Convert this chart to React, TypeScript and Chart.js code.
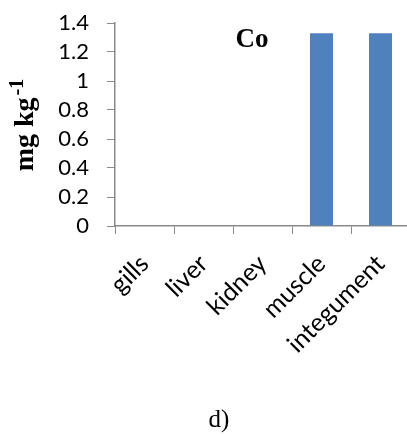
import React, { useEffect, useRef } from "react";
import { Chart, registerables } from "chart.js";

Chart.register(...registerables);

const categories = ["gills", "liver", "kidney", "muscle", "integument"];
const coValues = [0, 0, 0, 1.33, 1.33];
const yTicks = [0, 0.2, 0.4, 0.6, 0.8, 1, 1.2, 1.4];
const yTickLabels = ["0", "0.2", "0.4", "0.6", "0.8", "1", "1.2", "1.4"];
const chartTitle = "Co";
const yTitleMain = "mg kg";
const yTitleSup = "-1";
const panelLabel = "d)";

const axisGray = "#898989";
const barBlue = "#4F81BD";
const tickFont = "Lato, 'Open Sans', sans-serif";
const serif = "'Liberation Serif', 'Times New Roman', serif";

const textPlugin = {
  id: "extraText",
  afterDraw(chart: any) {
    const ctx = chart.ctx;
    ctx.save();
    ctx.fillStyle = "#000";
    // Title "Co"
    ctx.font = `bold 27px ${serif}`;
    ctx.textAlign = "center";
    ctx.textBaseline = "alphabetic";
    ctx.fillText(chartTitle, 252, 47);
    // Y axis title with superscript
    ctx.translate(33, 125);
    ctx.rotate(-Math.PI / 2);
    ctx.font = `bold 28px ${serif}`;
    const mainW = ctx.measureText(yTitleMain).width;
    ctx.font = `bold 20px ${serif}`;
    const supW = ctx.measureText(yTitleSup).width;
    const total = mainW + supW + 2;
    ctx.textAlign = "left";
    ctx.font = `bold 28px ${serif}`;
    ctx.fillText(yTitleMain, -total / 2, 0);
    ctx.font = `bold 20px ${serif}`;
    ctx.fillText(yTitleSup, -total / 2 + mainW + 2, -10);
    ctx.restore();
    ctx.save();
    ctx.fillStyle = "#000";
    ctx.font = `25px ${serif}`;
    ctx.textAlign = "center";
    ctx.fillText(panelLabel, 219, 427);
    ctx.restore();
  },
};

export default function App() {
  const ref = useRef<HTMLCanvasElement | null>(null);
  useEffect(() => {
    if (!ref.current) return;
    const chart = new Chart(ref.current, {
      type: "bar",
      data: {
        labels: categories,
        datasets: [
          {
            data: coValues,
            backgroundColor: barBlue,
            borderWidth: 0,
            barPercentage: 0.39,
            categoryPercentage: 1,
          },
        ],
      },
      options: {
        animation: false,
        responsive: false,
        layout: { padding: { left: 0, top: 23, right: 10, bottom: 0 } },
        plugins: { legend: { display: false }, tooltip: { enabled: false } },
        scales: {
          x: {
            grid: {
              drawOnChartArea: false,
              drawTicks: true,
              tickLength: 8,
              color: axisGray,
              offset: true,
            },
            border: { color: axisGray, width: 1.5 },
            ticks: {
              color: "#000",
              font: { family: tickFont, size: 25 },
              minRotation: 45,
              maxRotation: 45,
              padding: 15,
              autoSkip: false,
            },
            afterFit(scale: any) {
              scale.height = 208;
              scale.paddingLeft = 0;
              scale.paddingRight = 0;
            },
          },
          y: {
            min: 0,
            max: 1.4,
            afterBuildTicks(scale: any) {
              scale.ticks = yTicks.map((v) => ({ value: v }));
            },
            grid: {
              drawOnChartArea: false,
              drawTicks: true,
              tickLength: 8,
              color: axisGray,
            },
            border: { color: axisGray, width: 1.5 },
            ticks: {
              color: "#000",
              font: { family: tickFont, size: 22 },
              padding: 18,
              autoSkip: false,
              callback: (_v: any, i: number) => yTickLabels[i],
            },
            afterFit(scale: any) {
              scale.width = 115;
              scale.paddingTop = 0;
              scale.paddingBottom = 0;
            },
          },
        },
      },
      plugins: [textPlugin],
    });
    return () => chart.destroy();
  }, []);
  return (
    <div style={{ position: "fixed", left: 0, top: 0, width: 407, height: 434, overflow: "hidden", background: "#fff" }}>
      <canvas ref={ref} width={420} height={434} style={{ display: "block" }} />
    </div>
  );
}
